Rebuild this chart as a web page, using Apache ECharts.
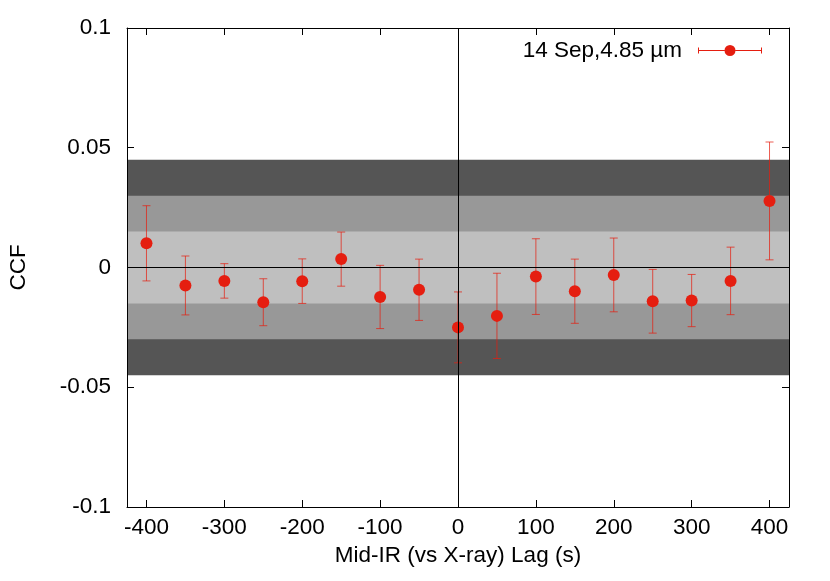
<!DOCTYPE html>
<html>
<head>
<meta charset="utf-8">
<script src="https://cdn.jsdelivr.net/npm/echarts@6/dist/echarts.min.js"></script>
<style>
html,body{margin:0;padding:0;background:#fff;}
#chart{width:830px;height:581px;}
</style>
</head>
<body>
<div id="chart"></div>
<script>
// ---- data ----
const lags = [-400,-350,-300,-250,-200,-150,-100,-50,0,50,100,150,200,250,300,350,400];
const ccf  = [0.0101,-0.0075,-0.0056,-0.0145,-0.0057,0.0035,-0.0123,-0.0093,-0.0250,-0.0202,-0.0038,-0.0099,-0.0031,-0.0141,-0.0138,-0.0056,0.0278];
const ccfErr = [0.0157,0.0123,0.0072,0.0098,0.0093,0.0113,0.0132,0.0128,0.0148,0.0178,0.0158,0.0134,0.0154,0.0133,0.0109,0.0141,0.0246];
const bandLevels = [0.045, 0.030, 0.015];
const bandColors = ['#555555', '#989898', '#bfbfbf'];
const xTicks = [-400,-300,-200,-100,0,100,200,300,400];
const yTicks = [-0.1,-0.05,0,0.05,0.1];
const seriesName = '14 Sep,4.85 µm';

const RED = '#e51e10';
const ERR = 'rgba(229,30,16,0.72)';
const FONT = 'Liberation Sans';
const FS = 22.5;

const errData = lags.map((x, i) => [x, ccf[i] - ccfErr[i], ccf[i] + ccfErr[i]]);
const ptData = lags.map((x, i) => [x, ccf[i]]);
const bandAreas = bandLevels.map((lv, i) => [
  {yAxis: -lv, itemStyle: {color: bandColors[i], opacity: 1}},
  {yAxis: lv}
]);

const chart = echarts.init(document.getElementById('chart'), null, {renderer: 'canvas'});

const xBase = {
  type: 'value', min: -425, max: 425,
  axisLine: {show: true, onZero: false, lineStyle: {color: '#000', width: 1}},
  axisTick: {show: true, inside: true, length: 7, lineStyle: {color: '#000'}, customValues: xTicks},
  splitLine: {show: false},
  z: 5
};
const yBase = {
  type: 'value', min: -0.1, max: 0.1,
  axisLine: {show: true, onZero: false, lineStyle: {color: '#000', width: 1}},
  axisTick: {show: true, inside: true, length: 7, lineStyle: {color: '#000'}, customValues: yTicks},
  splitLine: {show: false},
  z: 5
};

chart.setOption({
  animation: false,
  backgroundColor: '#fff',
  textStyle: {fontFamily: FONT},
  grid: {left: 127, right: 41, top: 28, bottom: 74, containLabel: false, outerBoundsMode: 'none'},
  legend: {
    right: 63, top: 34,
    align: 'right',
    itemWidth: 64, itemHeight: 12,
    selectedMode: false,
    textStyle: {fontFamily: FONT, fontSize: FS, color: '#000', padding: [0, 11, 0, 0]},
    data: [{
      name: seriesName,
      icon: 'path://M0 3h1v6h-1z M63 3h1v6h-1z M0 5.5h26.5v1h-26.5z M37.5 5.5h26.5v1h-26.5z M26.5 6a5.5 5.5 0 1 1 11 0a5.5 5.5 0 1 1 -11 0z'
    }]
  },
  xAxis: [
    Object.assign({}, xBase, {
      position: 'bottom',
      name: 'Mid-IR (vs X-ray) Lag (s)',
      nameLocation: 'middle', nameGap: 32,
      nameTextStyle: {fontFamily: FONT, fontSize: FS, color: '#000'},
      axisLabel: {show: true, customValues: xTicks, margin: 9, fontFamily: FONT, fontSize: FS, color: '#000'}
    }),
    Object.assign({}, xBase, {position: 'top', axisLabel: {show: false}})
  ],
  yAxis: [
    Object.assign({}, yBase, {
      position: 'left',
      name: 'CCF',
      nameLocation: 'middle', nameGap: 97, nameRotate: 90,
      nameTextStyle: {fontFamily: FONT, fontSize: FS, color: '#000'},
      axisLabel: {show: true, customValues: yTicks, margin: 16, fontFamily: FONT, fontSize: FS, color: '#000',
        formatter: v => String(+(+v).toFixed(3))}
    }),
    Object.assign({}, yBase, {position: 'right', axisLabel: {show: false}})
  ],
  series: [
    {
      name: 'bands', type: 'line', data: [], xAxisIndex: 0, yAxisIndex: 0, z: 1,
      silent: true,
      markArea: {silent: true, data: bandAreas}
    },
    {
      name: 'errors', type: 'custom', xAxisIndex: 0, yAxisIndex: 0, z: 2,
      data: errData,
      renderItem: function (params, api) {
        const x = api.value(0);
        const lo = api.coord([x, api.value(1)]);
        const hi = api.coord([x, api.value(2)]);
        const hw = 4;
        const st = {stroke: ERR, lineWidth: 1};
        return {
          type: 'group',
          children: [
            {type: 'line', shape: {x1: lo[0], y1: lo[1], x2: hi[0], y2: hi[1]}, style: st},
            {type: 'line', shape: {x1: lo[0] - hw, y1: lo[1], x2: lo[0] + hw, y2: lo[1]}, style: st},
            {type: 'line', shape: {x1: hi[0] - hw, y1: hi[1], x2: hi[0] + hw, y2: hi[1]}, style: st}
          ]
        };
      }
    },
    {
      name: 'zero', type: 'line', data: [], xAxisIndex: 0, yAxisIndex: 0, z: 3,
      silent: true,
      markLine: {
        silent: true, symbol: ['none', 'none'], label: {show: false},
        lineStyle: {color: '#000', width: 1, type: 'solid'},
        data: [{yAxis: 0}, {xAxis: 0}]
      }
    },
    {
      name: seriesName, type: 'scatter', xAxisIndex: 0, yAxisIndex: 0, z: 4,
      data: ptData, symbol: 'circle', symbolSize: 12,
      itemStyle: {color: RED, opacity: 1}
    }
  ]
});
</script>
</body>
</html>
